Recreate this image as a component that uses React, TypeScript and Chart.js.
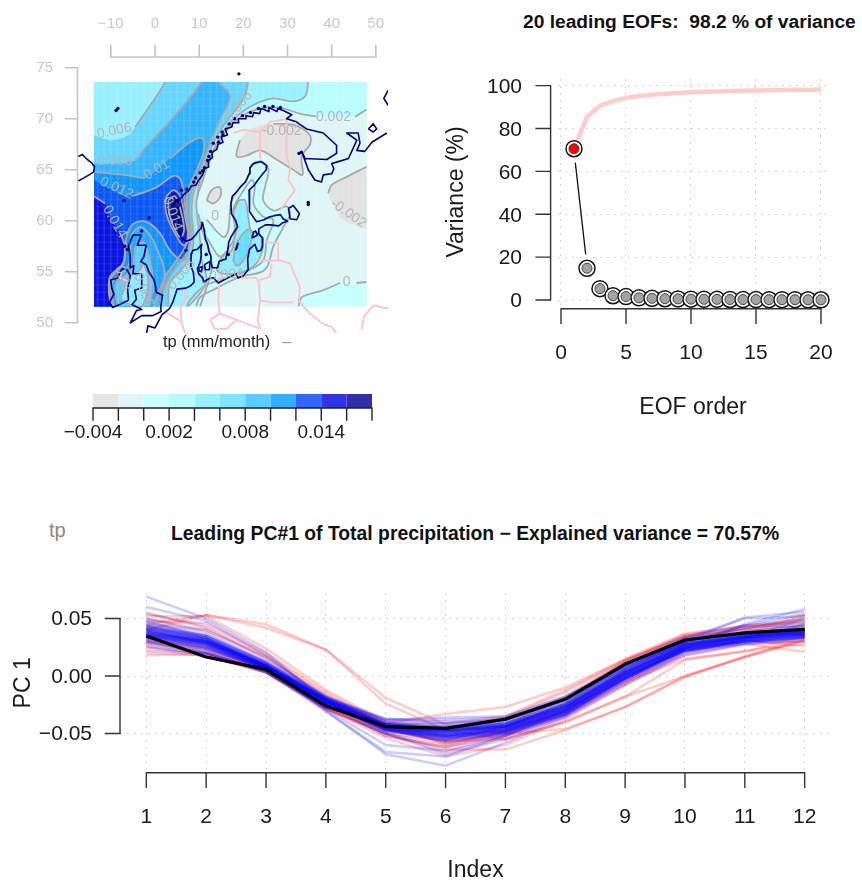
import React, { useEffect, useRef } from 'react';
import { Chart, registerables } from 'chart.js';

Chart.register(...registerables);
const FONT = '"Liberation Sans", Arial, sans-serif';
Chart.defaults.font.family = FONT;

/* ---------- scree panel ---------- */
const eofOrder = [1, 2, 3, 4, 5, 6, 7, 8, 9, 10, 11, 12, 13, 14, 15, 16, 17, 18, 19, 20];
const eofVariance = [70.57, 14.8, 5.3, 2, 1.6, 1, 0.8, 0.6, 0.5, 0.4, 0.3, 0.3, 0.25, 0.2, 0.2, 0.15, 0.15, 0.15, 0.1, 0.1];
const eofCumulative = [70.57, 85.4, 90.7, 92.7, 94.3, 95.2, 95.8, 96.2, 96.6, 96.9, 97.1, 97.3, 97.5, 97.6, 97.75, 97.85, 97.95, 98.05, 98.1, 98.2];
const eofConnector = [[1.1, 64.1], [1.9, 21.3]];
const eofXTicks = [0, 5, 10, 15, 20];
const eofYTicks = [0, 20, 40, 60, 80, 100];

/* ---------- PC panel (values in 1/1000) ---------- */
const months = [1, 2, 3, 4, 5, 6, 7, 8, 9, 10, 11, 12];
const pcMean = [34.8, 16.5, 5.8, -26, -44, -45.5, -37.5, -20.3, 10.4, 31.3, 37.5, 40.5];
const pcBlue = [
  [69, 50, 21, -23, -46, -57, -50, -33, -2, 24, 45, 58],
  [60, 48, 18, -20, -42, -48, -44, -24, 6, 30, 51, 56],
  [55, 42, 15, -17, -38, -36, -35, -18, 10, 33, 50, 52],
  [50, 38, 13, -18, -40, -41, -38, -20, 12, 34, 44, 49],
  [47, 36, 12, -19, -41, -45, -41, -24, 8, 31, 42, 47],
  [45, 35, 11, -19, -42, -47, -42, -26, 5, 29, 38, 44],
  [44, 34, 11, -20, -43, -50, -45, -29, 3, 27, 36, 42],
  [43, 33, 10, -20, -44, -52, -46, -30, 2, 26, 35, 41],
  [42, 32, 10, -21, -44, -51, -47, -31, 1, 25, 34, 39],
  [41, 31, 9, -21, -45, -53, -48, -32, 0, 24, 33, 38],
  [40, 31, 9, -22, -46, -54, -49, -33, -1, 23, 32, 37],
  [39, 30, 8, -22, -45, -52, -47, -31, 1, 25, 30, 36],
  [38, 29, 8, -22, -46, -55, -50, -34, -3, 22, 30, 35],
  [37, 29, 7, -23, -47, -56, -51, -34, -4, 21, 29, 34],
  [36, 28, 7, -23, -47, -54, -49, -33, -2, 22, 28, 33],
  [35, 27, 7, -23, -48, -53, -48, -30, 0, 24, 31, 36],
  [34, 26, 6, -24, -48, -52, -47, -28, 2, 26, 32, 37],
  [33, 25, 6, -24, -47, -50, -45, -27, 3, 27, 33, 38],
  [32, 24, 6, -25, -46, -48, -44, -25, 5, 28, 34, 39],
  [31, 23, 5, -25, -45, -47, -43, -24, 6, 29, 35, 40],
  [30, 22, 5, -26, -44, -46, -42, -23, 7, 30, 36, 41],
  [28, 20, 4, -26, -43, -44, -40, -21, 8, 31, 37, 42],
  [26, 19, 3, -27, -42, -42, -38, -19, 9, 28, 34, 40],
  [35, 28, 8, -20, -38, -38, -36, -18, 9, 31, 37, 38],
  [38, 30, 9, -19, -37, -40, -38, -20, 7, 29, 35, 36],
  [44, 35, 12, -18, -40, -44, -40, -22, 9, 33, 40, 45],
  [22, 20, 3, -28, -50, -68, -55, -35, -6, 20, 32, 45],
  [40, 28, 6, -29, -60, -65, -52, -32, -3, 24, 30, 33],
  [30, 20, 4, -31, -66, -70, -52, -30, 0, 22, 30, 34],
  [48, 33, 8, -30, -68, -78, -58, -36, -8, 18, 28, 30],
  [36, 26, 6, -24, -52, -62, -50, -30, -2, 25, 33, 50],
  [33, 25, 7, -22, -50, -56, -44, -26, 4, 29, 44, 54],
  [38, 30, 9, -21, -43, -47, -43, -27, 3, 26, 34, 38],
  [37, 31, 8, -22, -44, -49, -44, -28, 1, 25, 33, 37],
  [36, 29, 8, -23, -44, -50, -45, -29, 0, 24, 32, 36],
  [40, 32, 10, -20, -42, -46, -42, -26, 4, 27, 35, 39],
  [41, 33, 9, -21, -43, -48, -43, -27, 2, 26, 34, 38],
  [35, 28, 7, -22, -45, -51, -46, -30, -1, 23, 31, 35],
  [39, 31, 8, -23, -45, -52, -47, -31, -2, 23, 30, 34],
  [42, 33, 10, -21, -42, -45, -41, -25, 4, 28, 36, 39],
  [37, 29, 8, -21, -43, -49, -45, -28, 1, 24, 32, 36],
  [34, 27, 7, -23, -46, -53, -48, -32, -2, 22, 30, 33],
  [43, 32, 9, -22, -44, -48, -44, -27, 3, 27, 35, 37],
  [36, 30, 9, -20, -42, -47, -44, -26, 3, 26, 33, 35],
];
const pcRed = [
  [40, 53, 45, 23, -19, -42, -50, -46, -27, 0, 16, 31],
  [45, 53, 42, 23, -24, -47, -55, -40, -18, 0, 17, 33],
  [52, 52, 24, -12, -40, -60, -48, -32, -5, 15, 21, 35],
  [48, 46, 20, -14, -42, -55, -46, -28, -3, 18, 27, 32],
  [54, 44, 18, -16, -44, -58, -48, -30, 0, 22, 30, 30],
  [45, 40, 17, -18, -43, -52, -45, -28, 5, 30, 42, 50],
  [42, 35, 12, -20, -43, -50, -44, -24, 10, 33, 38, 44],
  [38, 30, 10, -22, -46, -58, -52, -34, -2, 28, 34, 40],
  [35, 27, 8, -25, -48, -55, -50, -30, 2, 27, 33, 38],
  [30, 24, 6, -27, -50, -60, -48, -28, 6, 32, 37, 52],
  [28, 22, 5, -26, -52, -62, -52, -36, -5, 25, 32, 35],
  [25, 20, 4, -25, -47, -48, -42, -20, 13, 35, 42, 48],
  [20, 18, 3, -27, -44, -45, -36, -14, 14, 36, 44, 46],
  [18, 19, 4, -29, -50, -66, -53, -34, -6, 22, 31, 26],
  [34, 24, 6, -28, -54, -70, -60, -38, -8, 20, 28, 21],
  [32, 25, 6, -24, -41, -33, -27, -10, 15, 37, 43, 43],
  [40, 30, 8, -22, -38, -41, -35, -12, 14, 34, 40, 53],
  [50, 40, 16, -19, -40, -46, -38, -18, 13, 35, 41, 36],
  [25, 17, 3, -29, -50, -64, -64, -47, -27, -1, 17, 31],
  [30, 20, 4, -28, -47, -57, -55, -40, -18, 14, 22, 28],
];
const pcXTicks = [1, 2, 3, 4, 5, 6, 7, 8, 9, 10, 11, 12];
const pcYTicks = [-0.05, 0, 0.05];

/* ---------- map: filled regions / contours [lon, lat] ---------- */
const LON_W = -13.8, LON_E = 47.9, LAT_S = 51.6, LAT_N = 73.6;
const imgBL = [LON_W, LAT_S], imgTL = [LON_W, LAT_N], imgTR = [LON_E, LAT_N], imgBR = [LON_E, LAT_S];
const cellLons = [-13, -11.5, -10, -8.5, -7, -5.5, -4, -2.5, -1, 0.5, 2, 3.5, 5, 6.5, 8, 9.5, 11, 12.5, 14, 15.5, 17, 18.5, 20, 21.5, 23, 24.5, 26, 27.5, 29, 30.5, 32, 33.5, 35, 36.5, 38, 39.5, 41, 42.5, 44, 45.5, 47];
const cellLats = [52.3, 53, 53.7, 54.4, 55.1, 55.8, 56.5, 57.2, 57.9, 58.6, 59.3, 60, 60.7, 61.4, 62.1, 62.8, 63.5, 64.2, 64.9, 65.6, 66.3, 67, 67.7, 68.4, 69.1, 69.8, 70.5, 71.2, 71.9, 72.6, 73.3];
const c002 = [[47.9, 70.9], [44.2, 70.2], [36.6, 70.2], [32.8, 70.5], [29.1, 71], [25.3, 71.1], [21.5, 70.7], [18.5, 69.9], [15.8, 68.6], [14, 67.3], [11.7, 65.6], [10.2, 64], [9.6, 62.4]];
const c002South = [[9.8, 60.7], [10.9, 58.8], [12.5, 56.8], [12.8, 55.2], [11.7, 53.5], [10.2, 51.6]];
const c0West = [[11.7, 60.1], [15.5, 58.4], [16.6, 59.1], [17.4, 62], [21.1, 64.3], [21.9, 65.5], [24.2, 65.8], [25.7, 65], [24.9, 63.3], [24.5, 62], [26.8, 61], [29.8, 61.4], [30.6, 60.7], [29.1, 59.4], [26.8, 57.5], [24.9, 55.2], [19.2, 54.5], [14, 53.4], [10.2, 52.5], [9.3, 51.6]];
const c0East = [[32.5, 51.6], [33.2, 52.5], [38.1, 53.2], [41.9, 53.9], [47.9, 54]];
const c002Baltic = [[9.8, 59.7], [12.5, 57.8], [14.7, 56.5], [17, 57.5], [18.5, 59.1], [17.7, 61], [19.2, 62.4], [21.9, 64], [22.6, 63.3], [22.3, 61.7], [24.5, 60.4], [26.8, 60.1], [25.3, 58.1], [24.5, 56.1], [21.5, 55.2], [15.5, 54.3], [10.9, 53.5], [7.9, 52.2], [7.2, 51.6]];
const grayNorth = [[18.5, 66.3], [19.2, 67.9], [22.3, 69.1], [26.8, 69.5], [31.3, 69.4], [34.7, 68.6], [35.2, 67.6], [33.2, 66.3], [33.4, 64.5], [31.3, 65], [27.5, 66], [23.8, 66.9], [20.8, 66.4]];
const grayEast = [[47.9, 65.3], [43.4, 64.3], [40, 63.5], [39.2, 62.7], [40.4, 61.5], [42.6, 60.1], [47.9, 59.2]];
const graySmall = [[11.7, 62], [12.8, 63], [14.6, 63.3], [14.9, 62.5], [13.2, 61.7]];
const c004 = [[34.7, 73.6], [34, 72.2], [31.3, 71.7], [26.8, 72], [23, 71.5], [19.2, 70.5], [16.2, 69.2], [14, 67.6], [12.1, 65.6], [10.6, 63.7], [9.4, 62], [9.6, 60.4], [10.2, 58.1], [10.6, 56.1], [11.7, 54.2], [10.2, 52.9], [7.5, 51.6]];
const baltic004 = [[18.9, 62], [20.4, 62], [21.1, 60.4], [21.9, 58.8], [23.4, 58.8], [24.5, 57.8], [23.4, 56.1], [21.1, 55.2], [17.7, 54.8], [15.5, 54.8], [14, 55.2], [15.8, 56.8], [17.4, 57.1], [18.1, 59.4], [17.7, 60.7]];
const baltic006 = [[17.7, 56.1], [18.5, 57.8], [20.8, 59.1], [21.9, 59], [21.5, 57.5], [20, 56.1], [18.5, 55.6]];
const c006 = [[-13.8, 68.4], [-10.2, 67.9], [-6.4, 68.3], [-4.5, 69.2], [1.1, 72.7], [2.3, 73.6], [21.1, 73.6], [20.4, 72.3], [18.9, 71.2], [15.8, 69.5], [13.2, 67.6], [10.9, 65], [8.7, 62.7], [8.3, 60.7], [8.7, 58.8], [8.3, 56.8], [6, 55.2], [3.4, 53.9], [3, 51.6]];
const c008 = [[-13.8, 65.6], [-4.5, 65.9], [-1.9, 67.3], [1.1, 68.7], [4.9, 70.5], [8.7, 72.5], [10.6, 73.6], [14.3, 73.6], [17, 72.2], [14.7, 69.9], [12.5, 67.6], [10.2, 65], [8.1, 62.7], [7.8, 60.7], [8.1, 58.8], [7.5, 57.1], [4.9, 55.5], [2.6, 53.9], [1.1, 51.6]];
const c010 = [[-13.8, 64.8], [-7.2, 64.5], [-2.3, 64.2], [3.4, 66.1], [7.9, 67.7], [10.6, 68.1], [11.1, 67.1], [9.8, 65.3], [7.5, 63], [7.2, 60.7], [7.5, 58.8], [6.8, 57.4], [4.5, 55.9], [2.3, 54.5], [-0.4, 51.6]];
const c012 = [[-13.8, 64], [-5.3, 62.4], [0.4, 63.3], [4.2, 64.4], [5.7, 64.1], [6.6, 62.3], [7, 60.7], [7.9, 58.1], [6.4, 56.1], [3.4, 57.1], [1.1, 58.8], [-1.9, 59.9], [-4.9, 59.7], [-6.4, 58.5], [-7.2, 55.9], [-10.2, 54.2], [-10.2, 52.5], [-9.6, 51.6]];
const holeBritain008 = [[-9.4, 51.6], [-9.8, 53.9], [-6, 55.6], [-5.3, 58.5], [-3.4, 59.4], [-1.5, 58.8], [0.4, 57.3], [2.3, 54.5], [-0.4, 51.6]];
const holeBritain006 = [[-8.5, 51.6], [-8.8, 53.9], [-5.3, 55.2], [-4.3, 57.5], [-2.6, 57.9], [-1.1, 56.1], [-0.4, 53.5], [-1.5, 51.6]];
const holeBritain004 = [[-7.5, 52.7], [-6, 54.5], [-3.4, 55.2], [-2.6, 55.8], [-1.5, 53.9], [-3, 51.6], [-6.4, 51.9]];
const c014 = [[-13.8, 62.4], [-11.3, 61.7], [-10.2, 60.2], [-7.9, 58.8], [-6.8, 57.5], [-7.2, 55.8], [-10.2, 54.5], [-10.2, 52.2], [-9.4, 51.6]];
const northSea014 = [[2.6, 62.4], [4.2, 63], [5.7, 62.4], [6.8, 60.4], [7.5, 58.1], [6.4, 57.6], [4.5, 58.8], [3, 60.1], [2.3, 61.4]];
const northSea016 = [[3, 62], [4.5, 62.4], [5.7, 61.2], [6.6, 59.1], [5.7, 58.4], [4.2, 59.4], [3.2, 60.7]];

const contourLabels = [
  { text: '0.006', lon: -9.2, lat: 68.8, rot: -12 },
  { text: '0.008', lon: -9.1, lat: 65.8, rot: 0 },
  { text: '0.01', lon: 0.4, lat: 65, rot: -30 },
  { text: '0.012', lon: -8.7, lat: 63.2, rot: 25 },
  { text: '0.014', lon: -9.1, lat: 59.9, rot: 60 },
  { text: '0.014', lon: 4, lat: 60.7, rot: 70 },
  { text: '0.006', lon: 18.9, lat: 71.2, rot: -50 },
  { text: '0.002', lon: 40.4, lat: 70.2, rot: 0 },
  { text: '-0.002', lon: 28.7, lat: 68.8, rot: 0 },
  { text: '-0.002', lon: 43.8, lat: 60.7, rot: 35 },
  { text: '0', lon: 13.6, lat: 60.5, rot: 0 },
  { text: '0', lon: 43.4, lat: 54, rot: 0 },
  { text: '0.008', lon: 6, lat: 54.7, rot: -50 },
  { text: '0.004', lon: 16.2, lat: 54.7, rot: -5 },
  { text: '0.006', lon: -2.6, lat: 53.2, rot: 70 },
  { text: '0.01', lon: -7.2, lat: 54.3, rot: 70 },
];

/* ---------- map: coast and borders [lon, lat] ---------- */
const coastIceland = [[-17.4, 66.3], [-16.4, 66.5], [-15.8, 66.2], [-15, 65.9], [-14.4, 65.7], [-13.7, 65.3], [-13.9, 64.8], [-14.9, 64.5], [-16.1, 64.2], [-17.4, 63.9]];
const coastNorway = [[10.7, 59.9], [10.5, 59.3], [9.8, 59], [9.2, 58.6], [8.3, 58.2], [7, 58], [5.9, 58.4], [5.6, 59], [5.2, 59.4], [5.5, 59.8], [5.1, 60.2], [5.4, 60.8], [5, 61.2], [5.6, 61.5], [5.1, 61.9], [5.8, 62.2], [6.6, 62.6], [7.5, 62.9], [8.2, 63.4], [9.3, 63.5], [9.8, 63.9], [10.9, 64.6], [11.2, 65.1], [12.2, 65.3], [12.1, 65.9], [13, 66.2], [12.9, 66.7], [14, 67], [14.3, 67.5], [15.4, 67.7], [15, 68.2], [16.4, 68.4], [15.9, 69], [17.4, 69.2], [17.6, 69.6], [19, 69.6], [18.9, 70], [20.4, 70], [20.6, 70.3], [22.1, 70.2], [22.3, 70.6], [23.7, 70.5], [24, 71], [25.8, 70.7], [25.8, 71.1], [27.6, 70.7], [27.8, 71], [29, 70.8], [31, 70.4], [29.8, 70], [32, 69.7], [34.3, 69], [38.1, 68.6], [41.1, 67.4], [41.1, 66.6], [38.9, 66], [34, 66.1], [33.2, 66.8], [34.7, 65], [36.2, 64], [37.7, 63.8], [38.1, 64.5], [40, 64.6], [40.5, 65.1], [40, 65.6], [43.8, 66.1], [45.7, 67.9], [43.4, 68.6], [46, 68.6], [46.4, 67.6], [45.7, 66.9], [47.5, 66.8], [49.1, 67.7], [52.5, 68.6]];
const coastBaltic = [[10.7, 59.9], [11.2, 59], [11.4, 58.2], [11.9, 57.7], [12.2, 57], [12.7, 56.5], [12.6, 56], [13, 55.4], [14.2, 55.4], [14.5, 56], [15.6, 56.2], [16, 56.2], [16.5, 57.2], [16.7, 57.9], [17.2, 58.4], [17.9, 58.9], [18.7, 59.4], [18.3, 60], [17.3, 60.7], [17.2, 61.7], [17.5, 62.4], [18.4, 62.8], [19.5, 63.4], [20.5, 63.8], [21.3, 64.6], [21.5, 65.2], [22.3, 65.6], [24, 65.8], [25.3, 65.4], [25.2, 65], [24.6, 64.7], [23.3, 64], [22.5, 63.5], [21.3, 63], [21.3, 61.8], [21.5, 60.9], [22.2, 60.4], [23, 59.9], [24.7, 60.1], [26, 60.4], [27, 60.5], [28.4, 60.6], [29, 60.2], [30, 59.95], [28.9, 59.8], [28, 59.5], [26, 59.6], [25, 59.6], [23.5, 59.2], [23.5, 58.7], [24.4, 58.3], [24.3, 57.5], [24, 57.1], [23.2, 57], [22.6, 57.7], [21.4, 57.2], [21, 56.3], [21, 56], [21.1, 55.2], [20, 54.6], [18.8, 54.4], [18.4, 54.8], [16.5, 54.4], [14.3, 53.9], [13.3, 54.4], [12.5, 54.4], [11, 54], [10.8, 54.4], [9.9, 54.8], [9.6, 55.3], [10.2, 55.9], [10.5, 56.6], [10.4, 57.2], [10.6, 57.7], [9.6, 57.2], [8.6, 57.1], [8.2, 56.7], [8.1, 55.6], [8.7, 54.9], [8.9, 54], [8, 53.6], [7, 53.4], [5, 53.3], [4.7, 52.9], [4, 52], [3.3, 51.4], [1.6, 50.8], [0, 49.5], [-1.6, 49.7], [-1.9, 49]];
const coastBritain = [[-5, 58.6], [-3.1, 58.6], [-4, 57.6], [-2, 57.6], [-2.5, 56.5], [-3.2, 56], [-2, 55.7], [-1.4, 55], [-0.2, 54.2], [0.1, 53.6], [0.3, 53], [1.7, 52.7], [1.3, 51.5], [1.4, 51.1], [-0.5, 50.7], [-3, 50.7], [-5.6, 50], [-4.2, 51.2], [-3, 51.3], [-5.2, 51.8], [-4.2, 52.3], [-4.6, 53.2], [-3, 53.4], [-3, 54.8], [-5, 54.8], [-4.8, 55.6], [-5.6, 55.4], [-5.6, 56.5], [-6, 57.5], [-5, 58.6]];
const coastIreland = [[-6, 52.2], [-6.2, 53.3], [-5.6, 54.6], [-6.3, 55.2], [-7.4, 55.3], [-8.5, 54.4], [-10, 54.2], [-9.8, 53.4], [-9.3, 52.8], [-10.3, 52], [-9.6, 51.5], [-8, 51.8], [-6, 52.2]];
const coastLadoga = [[30.2, 61.2], [31.3, 61.5], [32.7, 60.7], [32.1, 60.1], [30.6, 60.2], [30.2, 61.2]];
const coastKolguev = [[48.3, 69], [49.4, 69.5], [50.2, 69], [49.4, 68.7], [48.3, 69]];
const coastNovaya = [[52.8, 72.8], [51.8, 72], [52.8, 71.3]];
const coastSjaelland = [[11.2, 55.7], [12.5, 56], [12.3, 55.2], [11.4, 55.2], [11.2, 55.7]];
const coastFunen = [[9.9, 55.4], [10.7, 55.5], [10.5, 55], [10, 55.1], [9.9, 55.4]];
const coastGotland = [[18.2, 57.1], [18.8, 57.8], [18.5, 57.3], [18.2, 57.1]];
const coastSaaremaa = [[22, 58.3], [23.2, 58.6], [22.8, 59], [22.3, 58.9], [22, 58.3]];
const coastDots = [[19, 74.4], [-8.4, 71], [-8.8, 70.8], [-7, 62], [-1.3, 60.3], [-3, 59], [-6.9, 57.5], [-6.3, 57.2], [34.7, 61.8], [34.7, 61.6], [16.6, 56.7], [33.1, 66.7], [32.6, 66.6], [5, 62], [7.2, 63.1], [8.8, 63.8], [10.2, 64.7], [11.2, 65.2], [11.9, 65.9], [12.6, 66.8], [13.2, 67.6], [14.2, 68.2], [15.2, 68.7], [16.8, 69.5], [18, 70], [19.8, 70.3], [21.6, 70.6], [23.4, 71], [24.8, 71.2], [26.7, 71.2], [28.4, 71.1], [6, 63], [9.2, 64.2], [10.8, 64.9], [12.2, 66.3], [14.4, 67.7], [15.4, 68.4], [7, 57.1], [11.6, 56.7]];

const borderNorth = [[17.7, 68.6], [20, 68.9], [23.8, 68.7], [26, 69.7], [30.6, 70]];
const borderSweFin = [[23.8, 68.7], [23.8, 66.1]];
const borderFinRus = [[29.8, 70], [29.8, 68.2], [29.8, 66.3], [30.6, 65.3], [30.2, 64], [31.7, 63], [28.3, 61]];
const borderEstRus = [[24.9, 57.9], [27.9, 57.8], [27.9, 56.2], [30.6, 55.8], [32.8, 53.5], [32.5, 52.2], [35.1, 50.9], [38, 49.9], [40, 49.6], [41, 49]];
const borderLatLit = [[23.4, 56.1], [28.3, 56.1]];
const borderLitBel = [[23.8, 54.2], [26, 54.5], [26.4, 55.8]];
const borderPolBel = [[23.4, 54.2], [23.8, 52.2], [23.3, 50.3], [23.8, 49.4]];
const borderBelUkr = [[23.8, 52.2], [26.4, 52], [31.3, 52]];
const borderPolGer = [[14.7, 54.8], [14.3, 52.2], [14.7, 50.9]];
const borderCzPol = [[12.5, 50.3], [14.7, 50.9], [18.5, 50.3], [23.8, 49.4]];
const borderCzSouth = [[12.5, 50.3], [13.5, 49.4], [16.2, 49.4], [18.5, 50.3]];
const borderKalin = [[19.6, 54.4], [22.8, 54.4], [23.4, 54.2]];
const borderGerDen = [[8.7, 54.9], [10, 54.8]];
const borderGerNl = [[7, 53.3], [6.8, 52.2], [5.7, 51.6], [6, 50.1], [6.8, 49]];
const borderBelFr = [[2.5, 51], [3.4, 50.8], [6, 50.1]];
const borderIreland = [[-7.5, 55], [-8, 54.4], [-6.3, 54.1]];
const borderKaz = [[46.8, 49.3], [47.3, 50.6], [49.4, 51.7], [52.8, 51.4]];

const lonTicks = [-10, 0, 10, 20, 30, 40, 50];
const latTicks = [50, 55, 60, 65, 70, 75];

/* ---------- colour bar ---------- */
const levels = [-0.004, -0.002, 0, 0.002, 0.004, 0.006, 0.008, 0.01, 0.012, 0.014, 0.016, 0.018];
const levelLabelled = [-0.004, 0.002, 0.008, 0.014];
const barColors = ['#E6E6E6', '#E0F5F8', '#CCFFFF', '#B8FBFF', '#99F0FF', '#80E3FF', '#5CCBFF', '#33AEFF', '#3366FF', '#3333E6', '#3030A6'];

/* ---------- helpers ---------- */
const xy = (a: number[][]) => a.map(([x, y]) => ({ x, y }));
const closed = (a: number[][]) => [...a, a[0]];
const minus = (s: string) => s.replace('-', '\u2212');
const SMOOTH = 0.35;

const polygonPlugin = {
  id: 'polygonFill',
  beforeDatasetDraw(chart: any, args: any) {
    const ds = chart.data.datasets[args.index];
    if (!ds.polyFill) return;
    const pts = chart.getDatasetMeta(args.index).data;
    const n = pts.length;
    const isHard = (d: any) => !ds.smooth
      || Math.abs(d.x - LON_W) < 0.01 || Math.abs(d.x - LON_E) < 0.01 || Math.abs(d.y - LAT_S) < 0.01 || Math.abs(d.y - LAT_N) < 0.01;
    const cps = pts.map((p: any, i: number) => {
      if (isHard(ds.data[i])) return { inX: p.x, inY: p.y, outX: p.x, outY: p.y };
      const a = pts[(i - 1 + n) % n], b = pts[(i + 1) % n];
      const d01 = Math.hypot(p.x - a.x, p.y - a.y), d12 = Math.hypot(b.x - p.x, b.y - p.y);
      const s = d01 + d12 || 1;
      const fa = (SMOOTH * d01) / s, fb = (SMOOTH * d12) / s;
      return { inX: p.x - fa * (b.x - a.x), inY: p.y - fa * (b.y - a.y), outX: p.x + fb * (b.x - a.x), outY: p.y + fb * (b.y - a.y) };
    });
    const ctx = chart.ctx;
    ctx.save();
    ctx.beginPath();
    ctx.moveTo(pts[0].x, pts[0].y);
    for (let i = 0; i < n; i++) {
      const j = (i + 1) % n;
      ctx.bezierCurveTo(cps[i].outX, cps[i].outY, cps[j].inX, cps[j].inY, pts[j].x, pts[j].y);
    }
    ctx.closePath();
    ctx.fillStyle = ds.polyFill;
    ctx.fill();
    ctx.restore();
  },
};

const rAxisPlugin = {
  id: 'rAxis',
  afterDatasetsDraw(chart: any, _a: any, opts: any) {
    const ctx = chart.ctx;
    const ca = chart.chartArea;
    (opts.axes || []).forEach((ax: any) => {
      const s = chart.scales[ax.id];
      const vals = s.ticks.map((t: any) => s.getPixelForValue(t.value));
      const a = Math.min(...vals), b = Math.max(...vals);
      ctx.save();
      ctx.strokeStyle = ax.color;
      ctx.lineWidth = ax.lw;
      ctx.lineCap = 'square';
      ctx.beginPath();
      if (ax.side === 'bottom' || ax.side === 'top') {
        const dir = ax.side === 'bottom' ? 1 : -1;
        const y = (ax.side === 'bottom' ? ca.bottom : ca.top) + dir * ax.offset;
        ctx.moveTo(a, y); ctx.lineTo(b, y);
        vals.forEach((v: number) => { ctx.moveTo(v, y); ctx.lineTo(v, y + dir * ax.tick); });
      } else {
        const x = ca.left - ax.offset;
        ctx.moveTo(x, a); ctx.lineTo(x, b);
        vals.forEach((v: number) => { ctx.moveTo(x, v); ctx.lineTo(x - ax.tick, v); });
      }
      ctx.stroke();
      ctx.restore();
    });
  },
};

const contourLabelPlugin = {
  id: 'contourLabels',
  afterDatasetsDraw(chart: any, _a: any, opts: any) {
    if (!opts.items) return;
    const ctx = chart.ctx;
    const sx = chart.scales.x, sy = chart.scales.y;
    opts.items.forEach((l: any) => {
      ctx.save();
      ctx.translate(sx.getPixelForValue(l.lon), sy.getPixelForValue(l.lat));
      ctx.rotate((l.rot * Math.PI) / 180);
      ctx.font = `14px ${FONT}`;
      ctx.fillStyle = opts.color;
      ctx.textAlign = 'center';
      ctx.textBaseline = 'middle';
      ctx.fillText(l.text, 0, 0);
      ctx.restore();
    });
  },
};

function scale(cfg: any) {
  const { list, size, horizontal, padding, font, color, grid, title, callback, labelOffset, ...rest } = cfg;
  return {
    type: 'linear',
    afterBuildTicks: (s: any) => { s.ticks = list.map((value: number) => ({ value })); },
    afterFit: (s: any) => {
      if (horizontal) s.height = size; else s.width = size;
      s.paddingTop = s.paddingBottom = s.paddingLeft = s.paddingRight = 0;
    },
    grid: grid
      ? { display: true, drawTicks: false, color: '#D6D6D6', lineWidth: 1 }
      : { display: false, drawTicks: false },
    border: { display: false, dash: [2, 5] },
    ticks: {
      padding, color, autoSkip: false, maxRotation: 0, minRotation: 0, labelOffset: labelOffset || 0,
      font: { size: font, family: FONT },
      callback: callback || ((v: number) => minus(String(v))),
    },
    title: title ? { display: true, text: title.text, color: '#1a1a1a', padding: 0, font: { size: 23, family: FONT } } : { display: false },
    ...rest,
  };
}

const line = (data: number[][], color: string, width: number, extra: any = {}) => ({
  data: xy(data), showLine: true, borderColor: color, borderWidth: width, pointRadius: 0, pointHoverRadius: 0, tension: 0, borderJoinStyle: 'round', ...extra,
});
const poly = (data: number[][], color: string, smooth = true) => ({
  data: xy(data), polyFill: color, smooth, showLine: false, pointRadius: 0, pointHoverRadius: 0,
});

const baseOptions = {
  responsive: false,
  animation: false as const,
  maintainAspectRatio: false,
  events: [] as string[],
};

function mapConfig(): any {
  const GRID = '#A9A9A9', CW = 1.8;
  const fills = [
    poly([imgBL, imgTL, imgTR, imgBR], '#C6FFFF'),
    poly([...c002, ...c0West, ...c0East], '#DFF6F6'),
    poly(grayNorth, '#E2E2E2'),
    poly(grayEast, '#E2E2E2'),
    poly(graySmall, '#E2E2E2'),
    poly([...c002, ...c002South, imgBL, imgTL, imgTR], '#B8FDFF'),
    poly([...c004, imgBL, imgTL], '#99F0FF'),
    poly(baltic004, '#8FEDFF'),
    poly(baltic006, '#66DDFF'),
    poly([...c006, imgBL], '#66D6FF'),
    poly([...c008, imgBL], '#35B5FF'),
    poly([...c010, imgBL], '#0F96FF'),
    poly([...c012, imgBL], '#0A58F5'),
    poly(holeBritain008, '#2AA5FF'),
    poly(holeBritain006, '#5CCBFF'),
    poly(holeBritain004, '#8FEAFF'),
    poly([...c014, imgBL], '#0A14E0'),
    poly(northSea014, '#0A14E0'),
    poly(northSea016, '#00108A'),
  ];
  const cells = [
    ...cellLons.map((lon) => line([[lon, LAT_S], [lon, LAT_N]], 'rgba(255,255,255,0.11)', 1.6)),
    ...cellLats.map((lat) => line([[LON_W, lat], [LON_E, lat]], 'rgba(255,255,255,0.06)', 1.4)),
  ];
  const contours = [
    [c002[0], [45.3, 70.2]],
    c002.slice(2),
    c002South, c002Baltic, c0West, c0East.slice(0, 4), [[45.6, 53.9], [47.9, 54]],
    [...grayNorth.slice(3), ...grayNorth.slice(0, 2)],
    grayEast.slice(0, 4), closed(graySmall),
    c004, closed(baltic004), closed(baltic006),
    c006.slice(3, 6), c006.slice(6), c008.slice(1, 7), c008.slice(7), c010.slice(0, 3), c010.slice(3), c012.slice(1), c014.slice(0, 2), c014.slice(3),
    holeBritain008, holeBritain006, holeBritain004, closed(northSea014), closed(northSea016),
  ].map((c) => line(c, GRID, CW, { tension: SMOOTH }));
  const borders = [borderNorth, borderSweFin, borderFinRus, borderEstRus, borderLatLit, borderLitBel, borderPolBel, borderBelUkr, borderPolGer, borderCzPol, borderCzSouth, borderKalin, borderGerDen, borderGerNl, borderBelFr, borderIreland, borderKaz].map((b) => line(b, '#FFC0CB', 1.8));
  const coasts = [coastIceland, coastNorway, coastBaltic, coastBritain, coastIreland, coastLadoga, coastKolguev, coastNovaya, coastSjaelland, coastFunen, coastGotland, coastSaaremaa].map((c) => line(c, '#00007F', 1.6));
  const dots = { data: xy(coastDots), showLine: false, pointRadius: 1.7, pointBackgroundColor: '#00007F', pointBorderWidth: 0 };
  return {
    type: 'scatter',
    data: { datasets: [...fills, ...cells, ...contours, ...borders, ...coasts, dots].reverse() },
    options: {
      ...baseOptions,
      layout: { padding: { left: 0, top: 0, right: 42, bottom: 12 } },
      plugins: {
        legend: { display: false }, tooltip: { enabled: false },
        rAxis: { axes: [
          { id: 'x', side: 'top', offset: 10, tick: 11.5, color: '#C4C4C4', lw: 1.6 },
          { id: 'y', side: 'left', offset: 0.5, tick: 12, color: '#C4C4C4', lw: 1.6 },
        ] },
        contourLabels: { items: contourLabels, color: '#B6B6B6' },
      },
      scales: {
        x: scale({ position: 'top', min: -17.43, max: 52.75, list: lonTicks, size: 67, horizontal: true, padding: 34, font: 15, color: '#C8C8C8' }),
        y: scale({ position: 'left', min: 49, max: 75.07, list: latTicks, size: 78, padding: 25, font: 15, color: '#C8C8C8' }),
      },
    },
    plugins: [polygonPlugin, rAxisPlugin, contourLabelPlugin],
  };
}

function barConfig(): any {
  const cells = barColors.map((c, i) => poly([[levels[i], 0], [levels[i + 1], 0], [levels[i + 1], 1], [levels[i], 1]], c, false));
  return {
    type: 'scatter',
    data: { datasets: cells },
    options: {
      ...baseOptions,
      layout: { padding: { left: 53, top: 9, right: 8, bottom: 0 } },
      plugins: {
        legend: { display: false }, tooltip: { enabled: false },
        rAxis: { axes: [{ id: 'x', side: 'bottom', offset: 0, tick: 12, color: '#222', lw: 1.4 }] },
      },
      scales: {
        x: scale({
          position: 'bottom', min: -0.004, max: 0.018, list: levels, size: 37, horizontal: true, padding: 13, font: 19, color: '#1a1a1a',
          callback: (v: number) => (levelLabelled.some((l) => Math.abs(l - v) < 1e-9) ? minus(v.toFixed(3)) : ''),
        }),
        y: { type: 'linear', display: false, min: 0, max: 1 },
      },
    },
    plugins: [polygonPlugin, rAxisPlugin],
  };
}

function screeConfig(): any {
  const pts = xy(eofOrder.map((x, i) => [x, eofVariance[i]]));
  const datasets = [
    line(eofOrder.map((x, i) => [x, eofCumulative[i]]), '#FFCCCC', 4.5, { clip: false }),
    line(eofConnector, '#111', 1.3),
    { data: pts, showLine: false, clip: false, pointRadius: 8, pointBackgroundColor: '#fff', pointBorderColor: '#111', pointBorderWidth: 1.5 },
    { data: pts, showLine: false, clip: false, pointRadius: 5, pointBorderColor: '#444', pointBorderWidth: 1, pointBackgroundColor: eofOrder.map((_, i) => (i === 0 ? '#FF0000' : '#A3A3A3')) },
  ];
  return {
    type: 'scatter',
    data: { datasets: datasets.reverse() },
    options: {
      ...baseOptions,
      layout: { padding: { left: 0, top: 19, right: 34, bottom: 0 } },
      plugins: {
        legend: { display: false }, tooltip: { enabled: false },
        rAxis: { axes: [
          { id: 'x', side: 'bottom', offset: 3.7, tick: 14.5, color: '#333', lw: 1.4 },
          { id: 'y', side: 'left', offset: 7.4, tick: 14.5, color: '#333', lw: 1.4 },
        ] },
      },
      scales: {
        x: scale({ position: 'bottom', min: -0.23, max: 20.54, list: eofXTicks, size: 116, horizontal: true, padding: 36, font: 21, color: '#1a1a1a', grid: true, title: { text: 'EOF order' } }),
        y: scale({ position: 'left', min: -2.33, max: 103.1, list: eofYTicks, size: 115, padding: 36, font: 21, color: '#1a1a1a', grid: true, labelOffset: 1.5, title: { text: 'Variance (%)' } }),
      },
    },
    plugins: [rAxisPlugin],
  };
}

function pcConfig(): any {
  const toPts = (s: number[]) => months.map((m, i) => [m, s[i] / 1000]);
  const datasets = [
    ...pcRed.map((s) => line(toPts(s), 'rgba(255,0,0,0.2)', 2.5)),
    ...pcBlue.map((s) => line(toPts(s), 'rgba(0,0,255,0.2)', 2.5)),
    line(toPts(pcMean), '#000', 3.2),
  ];
  return {
    type: 'scatter',
    data: { datasets: datasets.reverse() },
    options: {
      ...baseOptions,
      layout: { padding: { left: 0, top: 13, right: 31, bottom: 0 } },
      plugins: {
        legend: { display: false }, tooltip: { enabled: false },
        rAxis: { axes: [
          { id: 'x', side: 'bottom', offset: 0, tick: 14.5, color: '#333', lw: 1.4 },
          { id: 'y', side: 'left', offset: 0, tick: 14.5, color: '#333', lw: 1.4 },
        ] },
      },
      scales: {
        x: scale({ position: 'bottom', min: 0.56, max: 12.44, list: pcXTicks, size: 111.3, horizontal: true, padding: 32, font: 21, color: '#1a1a1a', grid: true, title: { text: 'Index' } }),
        y: scale({ position: 'left', min: -0.0841, max: 0.0722, list: pcYTicks, size: 110, padding: 28, font: 21, color: '#1a1a1a', grid: true, labelOffset: 1, title: { text: 'PC 1' },
          callback: (v: number) => minus(v.toFixed(2)) }),
      },
    },
    plugins: [rAxisPlugin],
  };
}

const canvasStyle = (left: number, top: number): React.CSSProperties => ({ position: 'absolute', left, top, display: 'block' });
const textStyle = (left: number, top: number, size: number, weight: any, color: string): React.CSSProperties => ({
  position: 'absolute', left, top, fontFamily: FONT, fontSize: size, fontWeight: weight, color, whiteSpace: 'pre', lineHeight: 1,
});

export default function App() {
  const mapRef = useRef<HTMLCanvasElement>(null);
  const barRef = useRef<HTMLCanvasElement>(null);
  const screeRef = useRef<HTMLCanvasElement>(null);
  const pcRef = useRef<HTMLCanvasElement>(null);
  useEffect(() => {
    const charts = [
      new Chart(mapRef.current!, mapConfig()),
      new Chart(barRef.current!, barConfig()),
      new Chart(screeRef.current!, screeConfig()),
      new Chart(pcRef.current!, pcConfig()),
    ];
    return () => charts.forEach((c) => c.destroy());
  }, []);
  return (
    <div style={{ position: 'absolute', left: 0, top: 0, width: 862, height: 884, overflow: 'hidden', background: '#fff' }}>
      <canvas ref={mapRef} width={430} height={345} style={canvasStyle(0, 0)} />
      <canvas ref={barRef} width={340} height={60} style={canvasStyle(40, 385)} />
      <canvas ref={screeRef} width={419} height={361} style={canvasStyle(443, 60)} />
      <canvas ref={pcRef} width={852} height={304} style={canvasStyle(10, 580)} />
      <div style={textStyle(163, 333, 16.5, 400, '#222')}>tp (mm/month)</div>
      <div style={textStyle(282, 333, 16.5, 400, '#999')}>–</div>
      <div style={textStyle(523, 12, 19.2, 700, '#111')}>20 leading EOFs:  98.2 % of variance</div>
      <div style={textStyle(49, 520, 20, 400, '#888')}>tp</div>
      <div style={textStyle(171, 524, 19.35, 700, '#111')}>Leading PC#1 of Total precipitation − Explained variance = 70.57%</div>
    </div>
  );
}
